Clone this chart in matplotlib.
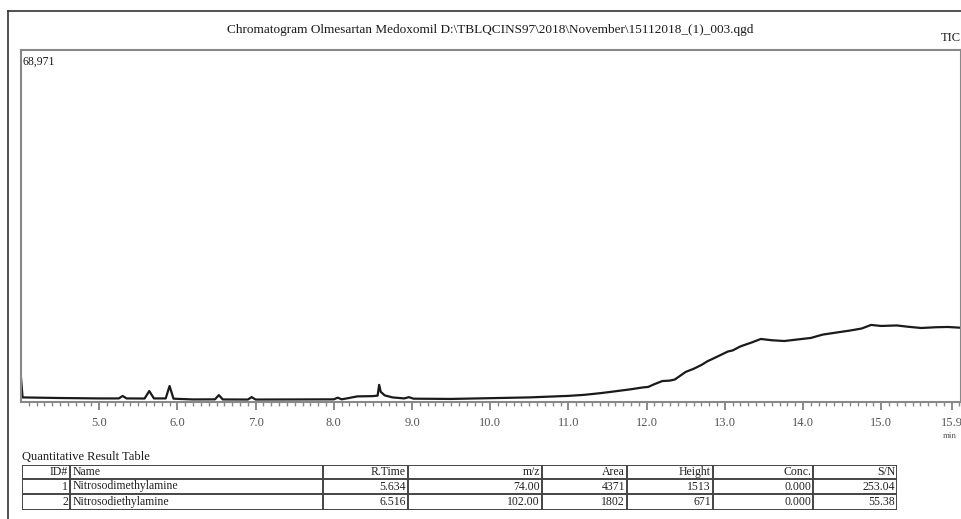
import matplotlib
matplotlib.use("Agg")
import matplotlib.pyplot as plt
from matplotlib.lines import Line2D

plt.rcParams['font.family'] = ['Liberation Serif', 'DejaVu Serif']

# chromatogram trace (retention time in min, intensity in counts)
rt = [4.00, 4.02, 4.5, 5.0, 5.25, 5.30, 5.35, 5.58, 5.64, 5.70, 5.85, 5.90, 5.95,
      6.2, 6.48, 6.53, 6.58, 6.90, 6.95, 7.00, 7.5, 8.0, 8.05, 8.10, 8.2, 8.3,
      8.5, 8.56, 8.58, 8.60, 8.65, 8.75, 8.9, 8.96, 9.02, 9.5, 10.0, 10.5, 11.0,
      11.2, 11.42, 11.6, 11.8, 11.95, 12.02, 12.1, 12.2, 12.3, 12.36, 12.5, 12.6,
      12.7, 12.78, 12.85, 13.04, 13.1, 13.2, 13.35, 13.46, 13.6, 13.76, 13.9, 14.1,
      14.25, 14.4, 14.6, 14.75, 14.87, 15.0, 15.2, 15.34, 15.51, 15.7, 15.85, 16.02]
intensity = [4700, 900, 780, 700, 700, 1180, 700, 680, 2150, 700, 700, 3130, 650,
             500, 520, 1350, 500, 480, 950, 480, 500, 520, 850, 520, 800, 1100,
             1150, 1250, 3350, 2000, 1300, 900, 700, 950, 650, 600, 750, 900, 1200,
             1400, 1750, 2100, 2500, 2850, 2950, 3500, 4100, 4200, 4400, 5900, 6500,
             7250, 8000, 8500, 9900, 10100, 10900, 11700, 12350, 12100, 11950, 12200, 12550,
             13200, 13550, 14000, 14400, 15100, 14900, 15000, 14750, 14500, 14650, 14700, 14550]

y_max = 68971
major_ticks = [5.0, 6.0, 7.0, 8.0, 9.0, 10.0, 11.0, 12.0, 13.0, 14.0, 15.0, 15.9]

title = r"Chromatogram Olmesartan Medoxomil D:\TBLQCINS97\2018\November\15112018_(1)_003.qgd"

# result table
table_title = "Quantitative Result Table"
table_header = ["ID#", "Name", "R.Time", "m/z", "Area", "Height", "Conc.", "S/N"]
ids = ["1", "2"]
names = ["Nitrosodimethylamine", "Nitrosodiethylamine"]
rtimes = ["5.634", "6.516"]
mz = ["74.00", "102.00"]
areas = ["4371", "1802"]
heights = ["1513", "671"]
concs = ["0.000", "0.000"]
sn = ["253.04", "55.38"]

W, H = 962, 519
fig = plt.figure(figsize=(W / 100, H / 100), dpi=100)

# outer frame of the report
fig.add_artist(Line2D([8 / W, 8 / W], [0, 1 - 11 / H], color='#333333', lw=1.2))
fig.add_artist(Line2D([8 / W, 1], [1 - 11 / H, 1 - 11 / H], color='#333333', lw=1.2))

fig.text(490 / W, 1 - 30 / H, title, ha='center', va='center', fontsize=9.5, color='#1a1a1a')
fig.text(961 / W, 1 - 38 / H, "TIC", ha='right', va='center', fontsize=9, color='#1a1a1a')

ax = fig.add_axes([21 / W, 1 - 402 / H, (961 - 21) / W, 352 / H])
ax.plot(rt, intensity, color='#1a1a1a', lw=1.6)
ax.set_xlim(4.0, 16.02)
ax.set_ylim(0, y_max)
ax.set_yticks([])
ax.set_xticks(major_ticks)
ax.set_xticklabels([f"{t:.1f}" for t in major_ticks])
ax.set_xticks([4.0 + 0.1 * i for i in range(1, 121)], minor=True)
ax.tick_params(axis='x', which='major', length=6, width=1.2, color='#777777',
               labelsize=9, labelcolor='#555555', pad=5)
ax.tick_params(axis='x', which='minor', length=3, width=1.0, color='#888888')
for s in ax.spines.values():
    s.set_color('#888888')
    s.set_linewidth(1.5)
ax.text(0.002, 0.985, f"{y_max:,}", transform=ax.transAxes, ha='left', va='top',
        fontsize=8.5, color='#1a1a1a')
fig.text(950 / W, 1 - 436 / H, "min", ha='center', va='center', fontsize=6.5, color='#555555')

# table drawn in pixel-like coordinates
col_edges = [0, 48, 301, 386, 520, 605, 691, 791, 875]
row_edges = [0, 14, 29, 45]
tax = fig.add_axes([22 / W, 1 - 510 / H, 875 / W, 45 / H])
tax.set_xlim(0, 875)
tax.set_ylim(45, 0)
tax.axis('off')
tax.hlines(row_edges, 0, 875, color='#444444', lw=1.4)
tax.vlines(col_edges, 0, 45, color='#444444', lw=1.4)
fig.text(22 / W, 1 - 457 / H, table_title, ha='left', va='center', fontsize=9, color='#1a1a1a')

rows = [table_header] + [list(r) for r in zip(ids, names, rtimes, mz, areas, heights, concs, sn)]
for i, row in enumerate(rows):
    yc = (row_edges[i] + row_edges[i + 1]) / 2
    for j, txt in enumerate(row):
        if j == 1:
            tax.text(col_edges[j] + 3, yc, txt, ha='left', va='center', fontsize=8.5, color='#222222')
        else:
            tax.text(col_edges[j + 1] - 2, yc, txt, ha='right', va='center', fontsize=8.5, color='#222222')

fig.savefig("out.png", dpi=100)
